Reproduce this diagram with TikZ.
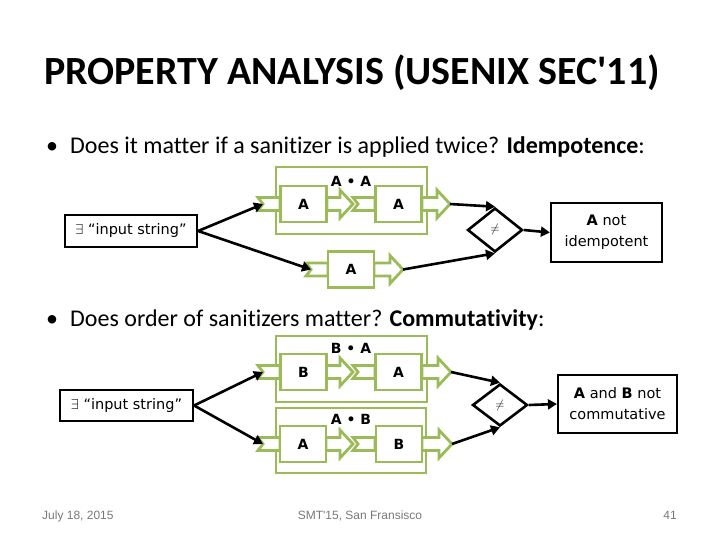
\documentclass[tikz,border=0pt]{standalone}
\usepackage{fontspec}
\setmainfont{Carlito}[Ligatures={NoCommon,TeXOff}]
\newfontfamily\dv{DejaVu Sans}
\newfontfamily\ls{Liberation Sans}[Ligatures=TeXOff]
\usetikzlibrary{shapes.geometric,arrows.meta}
\definecolor{olive}{RGB}{155,187,89}
\definecolor{foot}{RGB}{120,120,120}
\tikzset{
  grp/.style={draw=olive,line width=2.8pt,fill=none},
  ibox/.style={draw=olive,line width=2.8pt,fill=white,minimum width=46pt,minimum height=36pt,inner sep=0pt,font=\dv\bfseries\fontsize{14}{16}\selectfont},
  piece/.style={draw=olive,line width=2.8pt,fill=white,line join=miter},
  conn/.style={draw=black,line width=2.6pt,-{Triangle[length=9pt,width=10pt]}},
  dia/.style={diamond,draw=black,line width=2.6pt,fill=white,minimum width=55pt,minimum height=44pt,inner sep=0pt,font=\fontsize{12}{14}\selectfont},
  res/.style={draw=black,line width=2.2pt,align=center,inner sep=0pt,font=\dv\fontsize{14.5}{21}\selectfont},
  inp/.style={draw=black,line width=2.2pt,inner sep=0pt,font=\dv\fontsize{14.5}{16}\selectfont},
  glab/.style={font=\dv\bfseries\fontsize{14}{16}\selectfont,inner sep=0pt},
  btxt/.style={anchor=base west,inner sep=0pt,font=\fontsize{24}{28}\selectfont},
  ftxt/.style={inner sep=0pt,text=foot,font=\ls\fontsize{12}{14}\selectfont},
}
% in-piece: #1 x start, #2 x end, #3 y center
\newcommand\inpiece[3]{\draw[piece] (#1,#3-6.5) -- (#2,#3-6.5) -- (#2,#3+6.5) -- (#1,#3+6.5) -- (#1+5,#3) -- cycle;}
% out-arrow: #1 x start, #2 x tip, #3 y center
\newcommand\outpiece[3]{\draw[piece] (#1,#3-6.5) -- (#2-13,#3-6.5) -- (#2-13,#3-14) -- (#2,#3) -- (#2-13,#3+14) -- (#2-13,#3+6.5) -- (#1,#3+6.5) -- cycle;}
\begin{document}
\begin{tikzpicture}[x=1pt,y=-1pt]
\useasboundingbox (0,0) rectangle (720,540);
% title and bullets
\node[anchor=base west,inner sep=0pt,font=\bfseries\fontsize{40}{44}\selectfont] (title) at (44,85) {PROPERTY ANALYSIS (USENIX SEC'11)};
\node[btxt] (d1b) at (46,154) {•};
\node[btxt] (b1) at (70,154) {Does it matter if a sanitizer is applied twice? \textbf{Idempotence}:};
\node[btxt] (d2b) at (46,326) {•};
\node[btxt] (b2) at (70,326) {Does order of sanitizers matter? \textbf{Commutativity}:};
% footer
\node[ftxt,anchor=base west] (f1) at (42,519) {July 18, 2015};
\node[ftxt,anchor=base] (f2) at (360,519) {SMT'15, San Fransisco};
\node[ftxt,anchor=base east] (f3) at (677,519) {41};

% ===== Diagram 1 =====
\node[grp,minimum width=151pt,minimum height=67pt,inner sep=0pt] (g1) at (351.5,200.5) {};
\node[glab] (g1l) at (351,181) {A • A};
\inpiece{258}{280}{204}
\outpiece{327}{353}{204}
\inpiece{353}{375}{204}
\outpiece{422}{450}{204}
\node[ibox] (a11) at (303.5,204) {A};
\node[ibox] (a12) at (398.5,204) {A};
\inpiece{306}{328}{269.5}
\outpiece{374}{403}{269.5}
\node[ibox] (a13) at (351,269.5) {A};
\coordinate (c11) at (263,204);
\coordinate (c13) at (311,269.5);
\coordinate (o12) at (450,204);
\coordinate (o13) at (403,269.5);
\node[inp,minimum width=132pt,minimum height=32pt] (in1) at (131,231) {$\exists$ “input string”};
\node[dia] (d1) at (495,230) {$\neq$};
\node[res,minimum width=111pt,minimum height=59pt] (r1) at (606.5,232.5) {\textbf{A} not\\idempotent};
\draw[conn] (in1.east) -- (c11);
\draw[conn] (in1.east) -- (c13);
\draw[conn] (o12) -- (d1.north);
\draw[conn] (o13) -- (d1.south);
\draw[conn] (d1.east) -- (r1.west);

% ===== Diagram 2 =====
\node[grp,minimum width=151pt,minimum height=66pt,inner sep=0pt] (g2) at (351.5,369) {};
\node[glab] (g2l) at (351,348) {B • A};
\node[grp,minimum width=150pt,minimum height=65pt,inner sep=0pt] (g3) at (351,440.5) {};
\node[glab] (g3l) at (351,419) {A • B};
\inpiece{258}{280}{372}
\outpiece{326}{353}{372}
\inpiece{353}{375}{372}
\outpiece{422}{451}{372}
\node[ibox] (b21) at (303.5,372) {B};
\node[ibox] (b22) at (398.5,372) {A};
\inpiece{258}{280}{444}
\outpiece{326}{353}{444}
\inpiece{353}{375}{444}
\outpiece{422}{452}{444}
\node[ibox] (b31) at (303,444) {A};
\node[ibox] (b32) at (399,444) {B};
\coordinate (c21) at (263,372);
\coordinate (c31) at (263,444);
\coordinate (o22) at (451,372);
\coordinate (o32) at (452,444);
\node[inp,minimum width=133pt,minimum height=31pt] (in2) at (126.5,405.5) {$\exists$ “input string”};
\node[dia,minimum height=42pt] (d2) at (500,405) {$\neq$};
\node[res,minimum width=119pt,minimum height=58pt] (r2) at (617.5,404) {\textbf{A} and \textbf{B} not\\commutative};
\draw[conn] (in2.east) -- (c21);
\draw[conn] (in2.east) -- (c31);
\draw[conn] (o22) -- (d2.north);
\draw[conn] (o32) -- (d2.south);
\draw[conn] (d2.east) -- (r2.west);
\end{tikzpicture}
\end{document}
